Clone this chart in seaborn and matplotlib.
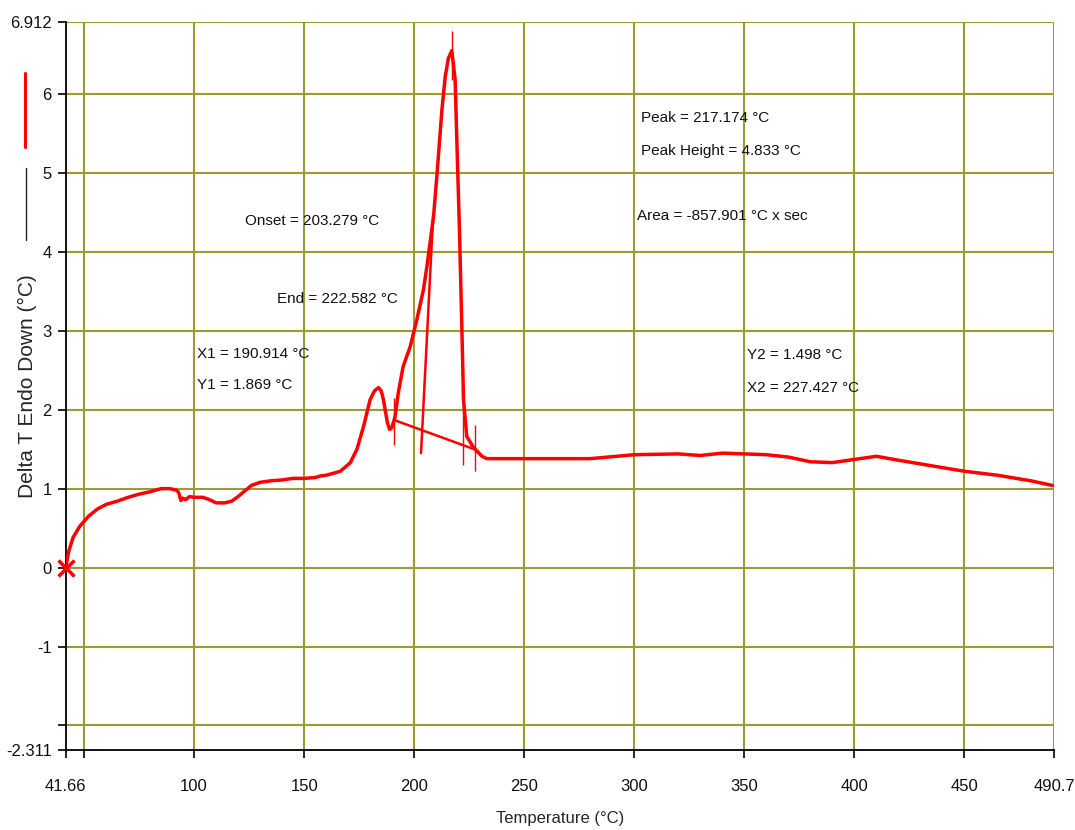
import matplotlib
matplotlib.use("Agg")
import matplotlib.pyplot as plt
import matplotlib.lines as mlines
import seaborn as sns
import pandas as pd
import numpy as np

# ---- data ----
temperature = [41.66, 43, 45, 48, 52, 56, 60, 65, 70, 75, 80, 85, 89, 92, 93, 94, 95, 96, 98, 100,
               104, 107, 110, 114, 117, 120, 123, 126, 130, 135, 140, 145, 150, 155, 157.3, 160, 164, 166.4,
               169, 171, 174, 177, 180, 182, 183.8, 185, 186, 187.8, 188.8, 189.8, 191.3, 192.8, 195,
               198.2, 201.2, 204.2, 205.8, 208.8, 210.3, 212.6, 214.1, 215.5, 217.1, 218.6, 219.8,
               220.6, 221.7, 222.4, 223.9, 227, 230.8, 233, 250, 280, 300, 320, 330, 340, 350, 360,
               370, 380, 390, 400, 410, 420, 435, 450, 465, 480, 490]
delta_t = [0.0, 0.2, 0.38, 0.52, 0.65, 0.74, 0.8, 0.84, 0.89, 0.93, 0.96, 1.0, 1.0, 0.98, 0.95, 0.85, 0.88, 0.86, 0.9, 0.89,
           0.89, 0.86, 0.82, 0.82, 0.84, 0.9, 0.97, 1.04, 1.08, 1.1, 1.11, 1.13, 1.13, 1.14, 1.16, 1.17, 1.2, 1.22,
           1.28, 1.33, 1.5, 1.79, 2.13, 2.24, 2.28, 2.24, 2.13, 1.84, 1.75, 1.77, 1.91, 2.22, 2.55,
           2.8, 3.14, 3.52, 3.82, 4.45, 4.96, 5.8, 6.22, 6.45, 6.55, 6.18, 5.0,
           4.24, 2.98, 2.13, 1.66, 1.52, 1.41, 1.38, 1.38, 1.38, 1.43, 1.44, 1.42, 1.45, 1.44, 1.43,
           1.4, 1.34, 1.33, 1.37, 1.41, 1.36, 1.29, 1.22, 1.17, 1.1, 1.04]

baseline_x = [190.914, 227.427]
baseline_y = [1.869, 1.498]
tangent_x = [203.1, 208.6]
tangent_y = [1.45, 4.45]
mark_x = [190.914, 217.174, 222.4, 227.427]
mark_ymin = [1.55, 6.18, 1.3, 1.22]
mark_ymax = [2.15, 6.8, 2.1, 1.8]

x_ticks = [41.66, 50, 100, 150, 200, 250, 300, 350, 400, 450, 490.7]
x_labels = ["41.66", "", "100", "150", "200", "250", "300", "350", "400", "450", "490.7"]
y_ticks = [-2.311, -2, -1, 0, 1, 2, 3, 4, 5, 6, 6.912]
y_labels = ["-2.311", "", "-1", "0", "1", "2", "3", "4", "5", "6", "6.912"]

annotations = [
    (123.2, 4.385, "Onset = 203.279 °C"),
    (137.6, 3.40, "End = 222.582 °C"),
    (101.3, 2.70, "X1 = 190.914 °C"),
    (101.3, 2.31, "Y1 = 1.869 °C"),
    (303.2, 5.70, "Peak = 217.174 °C"),
    (303.2, 5.28, "Peak Height = 4.833 °C"),
    (301.4, 4.46, "Area = -857.901 °C x sec"),
    (351.1, 2.69, "Y2 = 1.498 °C"),
    (351.1, 2.28, "X2 = 227.427 °C"),
]

# ---- style ----
sns.set_style("white")
fam = ["Liberation Sans", "DejaVu Sans"]
plt.rcParams["font.family"] = fam

RED = "#ff0000"
GRID = "#9c9c2e"

fig = plt.figure(figsize=(10.75, 8.3), dpi=100)
ax = fig.add_axes([0.0611, 0.0964, 0.9194, 0.8771])

df = pd.DataFrame({"Temperature": temperature, "DeltaT": delta_t})
sns.lineplot(data=df, x="Temperature", y="DeltaT", sort=False, color=RED, lw=2.5, ax=ax, zorder=5)
sns.lineplot(x=baseline_x, y=baseline_y, color=RED, lw=1.8, ax=ax, zorder=5)
sns.lineplot(x=tangent_x, y=tangent_y, color=RED, lw=1.8, ax=ax, zorder=5)
ax.vlines(mark_x, mark_ymin, mark_ymax, color=RED, lw=1.0, zorder=5)
ax.plot([temperature[0]], [delta_t[0]], marker="x", color=RED, ms=11, mew=2.5, clip_on=False, zorder=6)

ax.set_xlim(41.66, 490.7)
ax.set_ylim(-2.311, 6.912)
ax.set_xticks(x_ticks)
ax.set_xticklabels(x_labels)
ax.set_yticks(y_ticks)
ax.set_yticklabels(y_labels)
ax.tick_params(axis="both", direction="out", length=6, width=1.2, color="black",
               labelsize=12, labelcolor="#111111", pad=4, left=True, bottom=True)
ax.tick_params(axis="x", pad=15)

# grid lines (excluding the limit lines on left/bottom)
for xv in x_ticks[1:]:
    ax.axvline(xv, color=GRID, lw=1.5, zorder=1)
for yv in y_ticks[1:]:
    ax.axhline(yv, color=GRID, lw=1.5, zorder=1)

for side in ["top", "right"]:
    ax.spines[side].set_visible(False)
for side in ["left", "bottom"]:
    ax.spines[side].set_color("black")
    ax.spines[side].set_linewidth(1.3)

ax.set_xlabel("Temperature (°C)", fontsize=12, labelpad=12)
ax.set_ylabel("")

fig.text(0.026, 0.535, "Delta T Endo Down (°C)", rotation=90, fontsize=15,
         ha="center", va="center")
fig.add_artist(mlines.Line2D([0.0235, 0.0235], [1 - 147 / 830, 1 - 73 / 830], color=RED, lw=2.2))
fig.add_artist(mlines.Line2D([0.0245, 0.0245], [1 - 240 / 830, 1 - 168 / 830], color="#222222", lw=1.0))

for xv, yv, s in annotations:
    ax.text(xv, yv, s, fontsize=11, ha="left", va="center", color="#111111", zorder=7)

fig.savefig("out.png", dpi=100)
